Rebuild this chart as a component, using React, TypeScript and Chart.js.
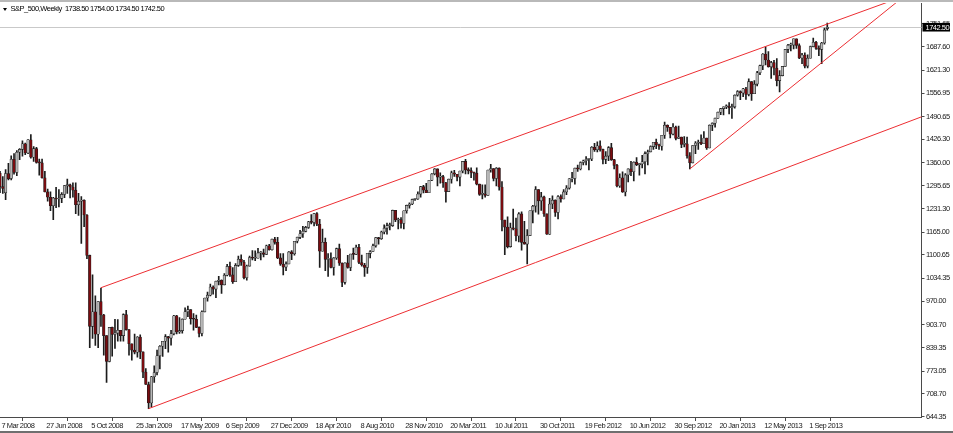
import React, { useEffect, useRef } from 'react';
import { Chart, registerables } from 'chart.js';

Chart.register(...registerables);

// ---- header text ----
const symbolTitle = 'S&P_500,Weekly';
const titleValues = ['1738.50', '1754.00', '1734.50', '1742.50'];

// ---- axis ticks ----
const xTickBars = [0, 16, 32, 48, 64, 80, 96, 112, 128, 144, 160, 176, 192, 208, 224, 240, 256, 272, 288];
const xTickLabels = ['7 Mar 2008', '27 Jun 2008', '5 Oct 2008', '25 Jan 2009', '17 May 2009', '6 Sep 2009',
  '27 Dec 2009', '18 Apr 2010', '8 Aug 2010', '28 Nov 2010', '20 Mar 2011', '10 Jul 2011', '30 Oct 2011',
  '19 Feb 2012', '10 Jun 2012', '30 Sep 2012', '20 Jan 2013', '12 May 2013', '1 Sep 2013'];
const yTickValues = [644.35, 708.70, 773.05, 839.35, 903.70, 970.00, 1034.35, 1100.65, 1165.00, 1231.30,
  1295.65, 1360.00, 1426.30, 1490.65, 1556.95, 1621.30, 1687.60, 1751.65];

// ---- weekly candles (bar index 0 = 7 Mar 2008) ----
const opens = [
  // 2008
  1331,1293,1276,1330,1316,1370,1333,1390,1398,1414,1388,1425,1376,1400,1361,1360,1318,1278,1263,1239,1261,1258,1260,1271,1296,1298,1292,1283,1242,1252,1255,1213,1099,899,940,877,969,931,873,800,896,876,880,888,
  // 2009
  873,932,890,850,832,826,869,827,770,735,683,757,769,816,843,857,870,866,878,929,883,887,919,940,946,921,919,896,879,940,979,987,1010,1004,1026,1029,1016,1043,1068,1044,1025,1071,1088,1080,1036,1069,1093,1091,1091,1106,1106,1102,1126,
  // 2010
  1115,1145,1136,1092,1074,1066,1075,1109,1104,1139,1150,1160,1167,1178,1194,1192,1217,1187,1111,1136,1088,1089,1065,1092,1118,1077,1023,1078,1065,1103,1102,1122,1079,1072,1065,1105,1110,1126,1149,1146,1165,1176,1183,1183,1226,1199,1200,1189,1225,1240,1244,1257,
  // 2011
  1258,1272,1293,1283,1276,1311,1329,1343,1320,1321,1304,1279,1314,1332,1328,1320,1337,1364,1340,1338,1333,1331,1300,1271,1272,1268,1340,1344,1316,1345,1292,1199,1179,1124,1177,1174,1154,1216,1136,1131,1155,1225,1238,1285,1253,1264,1216,1159,1244,1255,1220,1265,
  // 2012
  1258,1278,1289,1315,1316,1345,1343,1361,1366,1370,1371,1404,1397,1408,1398,1370,1379,1403,1369,1353,1295,1318,1278,1326,1343,1335,1362,1355,1357,1363,1386,1391,1406,1418,1411,1407,1438,1466,1460,1441,1461,1429,1433,1412,1414,1380,1360,1409,1416,1418,1414,1430,
  // 2013
  1402,1466,1472,1486,1503,1513,1518,1520,1516,1518,1551,1561,1557,1569,1553,1589,1555,1582,1614,1634,1667,1650,1631,1643,1627,1592,1606,1632,1680,1692,1692,1710,1691,1656,1664,1633,1655,1688,1700,1683,1680,1698,1738.5,
];
const highs = [
  1336,1321,1341,1359,1380,1386,1395,1400,1422,1416,1426,1440,1406,1404,1371,1371,1336,1286,1278,1263,1291,1285,1276,1297,1314,1300,1304,1304,1274,1265,1256,1214,1100,1044,985,969,1007,933,873,896,897,919,918,888,
  934,944,890,850,877,870,875,827,780,742,758,788,832,845,857,876,871,888,930,930,924,920,951,956,946,935,931,898,943,979,996,1018,1013,1027,1040,1030,1048,1074,1080,1065,1076,1097,1101,1085,1072,1097,1113,1112,1119,1110,1117,1128,1130,
  1145,1150,1150,1104,1104,1081,1110,1113,1139,1151,1170,1181,1181,1195,1214,1218,1220,1201,1173,1148,1104,1106,1093,1120,1131,1078,1078,1099,1103,1120,1128,1130,1100,1077,1105,1113,1131,1149,1150,1168,1185,1190,1190,1227,1226,1204,1206,1225,1241,1247,1258,1260,
  1278,1294,1297,1302,1311,1330,1344,1343,1332,1325,1305,1314,1337,1339,1328,1337,1364,1370,1346,1346,1334,1346,1300,1298,1298,1340,1356,1344,1347,1346,1307,1199,1208,1190,1230,1204,1220,1222,1195,1172,1225,1240,1293,1285,1277,1266,1216,1260,1267,1256,1268,1270,
  1285,1296,1316,1333,1345,1354,1363,1368,1378,1372,1406,1415,1419,1422,1399,1392,1406,1415,1370,1356,1329,1335,1330,1343,1364,1363,1375,1358,1381,1391,1396,1408,1418,1427,1413,1438,1475,1467,1460,1471,1464,1464,1433,1434,1433,1389,1409,1420,1424,1439,1448,1430,
  1467,1473,1486,1503,1514,1518,1524,1530,1526,1552,1564,1563,1570,1573,1597,1589,1592,1618,1636,1668,1687,1674,1646,1649,1654,1620,1632,1680,1694,1698,1710,1710,1696,1669,1670,1665,1689,1712,1703,1690,1700,1740,1754,
];
const lows = [
  1276,1274,1256,1312,1312,1328,1324,1369,1379,1383,1386,1373,1364,1359,1325,1317,1278,1252,1225,1200,1234,1236,1248,1262,1274,1261,1263,1217,1212,1133,1180,1090,839,865,845,839,899,818,741,799,815,837,857,857,
  857,888,818,804,821,812,808,754,735,667,672,741,762,779,814,836,826,846,875,878,879,880,919,926,905,888,895,869,872,940,970,985,990,980,1016,992,1016,1041,1040,1020,1025,1068,1071,1033,1029,1069,1086,1084,1091,1086,1095,1102,1114,
  1114,1131,1090,1071,1044,1056,1075,1087,1100,1134,1146,1150,1165,1175,1188,1182,1183,1065,1111,1056,1040,1064,1043,1088,1071,1011,1018,1063,1056,1088,1102,1076,1069,1040,1048,1092,1110,1122,1131,1144,1160,1159,1171,1181,1194,1174,1176,1174,1218,1232,1242,1254,
  1257,1263,1275,1276,1276,1310,1326,1295,1303,1291,1249,1279,1303,1322,1309,1295,1332,1329,1329,1318,1311,1298,1268,1258,1263,1268,1334,1309,1295,1283,1168,1101,1120,1122,1171,1140,1137,1114,1131,1075,1155,1191,1221,1215,1226,1209,1158,1158,1231,1209,1202,1249,
  1258,1270,1286,1306,1300,1336,1340,1354,1354,1340,1366,1392,1391,1393,1357,1358,1366,1367,1343,1292,1291,1277,1267,1306,1324,1309,1352,1325,1346,1329,1354,1391,1398,1400,1398,1396,1429,1449,1430,1439,1425,1428,1403,1405,1373,1343,1360,1386,1398,1411,1414,1398,
  1402,1451,1461,1485,1496,1495,1513,1498,1485,1514,1548,1538,1547,1539,1549,1536,1555,1577,1609,1623,1636,1630,1598,1608,1577,1560,1605,1632,1671,1676,1681,1683,1654,1640,1628,1628,1655,1687,1680,1662,1640,1695,1734.5,
];
const closes = [
  1293,1288,1330,1315,1370,1333,1390,1398,1414,1388,1425,1376,1400,1361,1360,1318,1278,1263,1239,1261,1258,1260,1271,1296,1298,1292,1283,1242,1252,1255,1213,1099,899,940,877,969,931,873,800,896,876,880,888,873,
  932,890,850,832,826,869,827,770,735,683,757,769,816,843,857,870,866,878,929,883,887,919,940,946,921,919,896,879,940,979,987,1010,1004,1026,1029,1016,1043,1068,1044,1025,1071,1088,1080,1036,1069,1093,1091,1091,1106,1106,1102,1126,1115,
  1145,1136,1092,1074,1066,1075,1109,1104,1139,1150,1160,1167,1178,1194,1192,1217,1187,1111,1136,1088,1089,1065,1092,1118,1077,1023,1078,1065,1103,1102,1122,1079,1072,1065,1105,1110,1126,1149,1146,1165,1176,1183,1183,1226,1199,1200,1189,1225,1240,1244,1257,1258,
  1272,1293,1283,1276,1311,1329,1343,1320,1321,1304,1279,1314,1332,1328,1320,1337,1364,1340,1338,1333,1331,1300,1271,1272,1268,1340,1344,1316,1345,1292,1199,1179,1124,1177,1174,1154,1216,1136,1131,1155,1225,1238,1285,1253,1264,1216,1159,1244,1255,1220,1265,1258,
  1278,1289,1315,1316,1345,1343,1361,1366,1370,1371,1404,1397,1408,1398,1370,1379,1403,1369,1353,1295,1318,1278,1326,1343,1335,1362,1355,1357,1363,1386,1391,1406,1418,1411,1407,1438,1466,1460,1441,1461,1429,1433,1412,1414,1380,1360,1409,1416,1418,1414,1430,1402,
  1466,1472,1486,1503,1513,1518,1520,1516,1518,1551,1561,1557,1569,1553,1589,1555,1582,1614,1634,1667,1650,1631,1643,1627,1592,1606,1632,1680,1692,1692,1710,1691,1656,1664,1633,1655,1688,1700,1683,1680,1698,1735,1742.5,
];

// ---- trend lines (bar index, price) ----
const upperChannel = [{ x: 36, y: 1008 }, { x: 329, y: 1849 }];
const lowerChannel = [{ x: 53, y: 667 }, { x: 329, y: 1491 }];
const risingSupport = [{ x: 246, y: 1343 }, { x: 329, y: 1872 }];

const FONT = "'Liberation Sans', Arial, sans-serif";
const FONT_SIZE = 7.5;
const LETTER_SPACING = '-0.5px';
const UP_FILL = '#b8b8b8';
const DOWN_FILL = '#7a0c10';
const OUTLINE = '#1c1c1c';
const LINE_RED = 'rgb(236, 46, 50)';
const AXIS = '#4a4a4a';

export default function App() {
  const ref = useRef<HTMLCanvasElement>(null);

  useEffect(() => {
    const canvas = ref.current;
    if (!canvas) return;
    const lastClose = closes[closes.length - 1];

    const decor = {
      id: 'mt4decor',
      beforeDraw(chart: any) {
        const { ctx, width, height } = chart;
        ctx.save();
        ctx.fillStyle = '#ffffff';
        ctx.fillRect(0, 0, width, height);
        ctx.restore();
        (ctx as any).letterSpacing = LETTER_SPACING;
      },
      beforeDatasetsDraw(chart: any) {
        const { ctx, chartArea } = chart;
        const y = Math.round(chart.scales.y.getPixelForValue(lastClose)) + 0.5;
        ctx.save();
        ctx.strokeStyle = '#c9c9c9';
        ctx.lineWidth = 1;
        ctx.beginPath();
        ctx.moveTo(chartArea.left, y);
        ctx.lineTo(chartArea.right, y);
        ctx.stroke();
        ctx.restore();
      },
      afterDraw(chart: any) {
        const { ctx, chartArea, width, height } = chart;
        const y = chart.scales.y.getPixelForValue(lastClose);
        ctx.save();
        ctx.fillStyle = '#000';
        ctx.fillRect(chartArea.right + 1, y - 4.3, 27.5, 8.6);
        ctx.fillStyle = '#fff';
        ctx.font = `${FONT_SIZE}px ${FONT}`;
        (ctx as any).letterSpacing = LETTER_SPACING;
        ctx.textBaseline = 'middle';
        ctx.textAlign = 'left';
        ctx.fillText(lastClose.toFixed(2), chartArea.right + 4, y + 0.5);
        // window frame bands
        ctx.fillStyle = '#b9b9b9';
        ctx.fillRect(0, 0, width, 2);
        ctx.fillStyle = '#6f6f6f';
        ctx.fillRect(0, height - 2, width, 2);
        ctx.restore();
      },
    };

    const chart = new Chart(canvas, {
      type: 'bar',
      data: {
        datasets: [
          { type: 'line', data: upperChannel, borderColor: LINE_RED, borderWidth: 1, pointRadius: 0, fill: false, tension: 0, order: 0 } as any,
          { type: 'line', data: lowerChannel, borderColor: LINE_RED, borderWidth: 1, pointRadius: 0, fill: false, tension: 0, order: 0 } as any,
          { type: 'line', data: risingSupport, borderColor: LINE_RED, borderWidth: 1, pointRadius: 0, fill: false, tension: 0, order: 0 } as any,
          {
            type: 'bar',
            data: opens.map((o, i) => ({ x: i, y: [o, closes[i]] })),
            backgroundColor: opens.map((o, i) => (closes[i] >= o ? UP_FILL : DOWN_FILL)),
            borderColor: OUTLINE,
            borderWidth: 0.6,
            borderSkipped: false,
            grouped: false,
            barPercentage: 1,
            categoryPercentage: 1,
            maxBarThickness: 2.6,
            minBarLength: 1,
            order: 1,
          } as any,
          {
            type: 'bar',
            data: opens.map((_, i) => ({ x: i, y: [lows[i], highs[i]] })),
            backgroundColor: OUTLINE,
            borderWidth: 0,
            grouped: false,
            barPercentage: 1,
            categoryPercentage: 1,
            maxBarThickness: 1,
            order: 2,
          } as any,
        ],
      },
      options: {
        animation: false,
        responsive: true,
        maintainAspectRatio: false,
        devicePixelRatio: 1,
        events: [],
        layout: { padding: { top: 3, left: 0, right: 0, bottom: 0 } },
        plugins: { legend: { display: false }, tooltip: { enabled: false }, title: { display: false } },
        scales: {
          x: {
            type: 'linear',
            min: 0,
            max: 328.6,
            offset: false,
            grid: { display: true, drawOnChartArea: false, drawTicks: true, tickLength: 4, color: AXIS },
            border: { display: true, color: AXIS, width: 1 },
            ticks: {
              autoSkip: false,
              maxRotation: 0,
              minRotation: 0,
              align: 'start',
              labelOffset: 1.5,
              padding: 0.5,
              color: '#1a1a1a',
              font: { family: FONT, size: FONT_SIZE },
              callback: (_v: any, i: number) => xTickLabels[i] ?? '',
            },
            afterBuildTicks: (s: any) => { s.ticks = xTickBars.map((v) => ({ value: v })); },
            afterFit: (s: any) => { s.height = 16; s.paddingLeft = 0; s.paddingRight = 0; },
          },
          y: {
            type: 'linear',
            position: 'right',
            min: 643.4,
            max: 1810.8,
            grid: { display: true, drawOnChartArea: false, drawTicks: true, tickLength: 3, color: AXIS },
            border: { display: true, color: AXIS, width: 1 },
            ticks: {
              autoSkip: false,
              padding: 1.5,
              color: '#1a1a1a',
              font: { family: FONT, size: FONT_SIZE },
              callback: (v: any) => Number(v).toFixed(2),
            },
            afterBuildTicks: (s: any) => { s.ticks = yTickValues.map((v) => ({ value: v })); },
            afterFit: (s: any) => { s.width = 31.5; s.paddingTop = 0; s.paddingBottom = 0; },
          },
        },
      } as any,
      plugins: [decor],
    });
    return () => chart.destroy();
  }, []);

  return (
    <div style={{ position: 'fixed', left: 0, top: 0, width: 953, height: 433, background: '#fff', overflow: 'hidden' }}>
      <canvas ref={ref} />
      <div
        style={{
          position: 'absolute', left: 3, top: 8, width: 0, height: 0,
          borderLeft: '2px solid transparent', borderRight: '2px solid transparent', borderTop: '3px solid #000',
        }}
      />
      <div
        style={{
          position: 'absolute', left: 10.5, top: 4, font: `${FONT_SIZE}px ${FONT}`, lineHeight: '10px',
          letterSpacing: LETTER_SPACING, color: '#000', whiteSpace: 'pre',
        }}
      >
        {symbolTitle + '  ' + titleValues.join(' ')}
      </div>
    </div>
  );
}
